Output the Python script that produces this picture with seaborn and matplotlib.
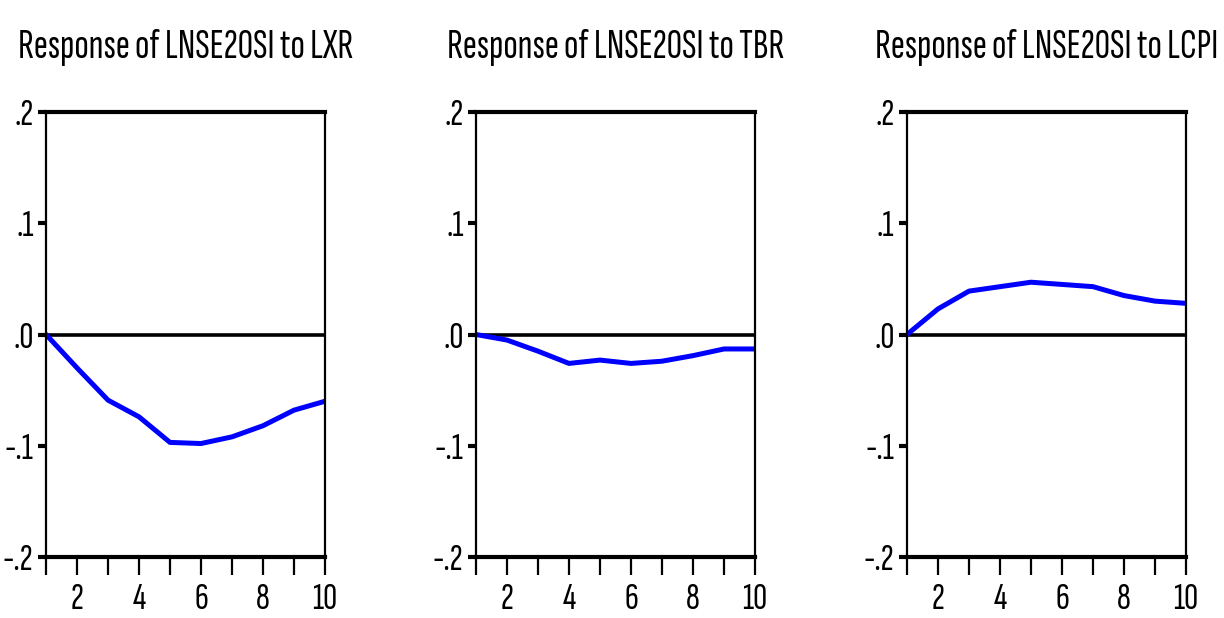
import numpy as np
import pandas as pd
import matplotlib
matplotlib.use("Agg")
import matplotlib.pyplot as plt
import seaborn as sns

# periods and impulse responses
periods = [1, 2, 3, 4, 5, 6, 7, 8, 9, 10]
resp_lxr = [0.0, -0.030, -0.059, -0.074, -0.097, -0.098, -0.092, -0.082, -0.068, -0.060]
resp_tbr = [0.0, -0.005, -0.015, -0.026, -0.023, -0.026, -0.024, -0.019, -0.013, -0.013]
resp_lcpi = [0.0, 0.023, 0.039, 0.043, 0.047, 0.045, 0.043, 0.035, 0.030, 0.028]
titles = ["Response of LNSE20SI to LXR",
          "Response of LNSE20SI to TBR",
          "Response of LNSE20SI to LCPI"]
y_ticks = [-0.2, -0.1, 0.0, 0.1, 0.2]
y_ticklabels = ["-.2", "-.1", ".0", ".1", ".2"]

sns.set_style("white")
plt.rcParams['font.family'] = ['Sofia Sans Extra Condensed', 'Roboto Condensed', 'DejaVu Sans']
plt.rcParams['font.weight'] = 'light'

fig = plt.figure(figsize=(12.24, 6.18), dpi=100)
lefts = [46 / 1224, 476 / 1224, 907 / 1224]
w = 279 / 1224
bottom = 1 - 557 / 618
h = 445 / 618

for left, title, vals in zip(lefts, titles, [resp_lxr, resp_tbr, resp_lcpi]):
    ax = fig.add_axes([left, bottom, w, h])
    df = pd.DataFrame({"period": periods, "response": vals})
    ax.axhline(0, color="black", lw=2.6, zorder=1)
    sns.lineplot(data=df, x="period", y="response", color="#0000ff", lw=3.6, ax=ax, zorder=2)
    ax.set_xlim(1, 10)
    ax.set_ylim(-0.2, 0.2)
    ax.set_xticks(periods)
    ax.set_xticklabels([str(p) if p % 2 == 0 else "" for p in periods])
    ax.set_yticks(y_ticks)
    ax.set_yticklabels(y_ticklabels)
    ax.set_xlabel("")
    ax.set_ylabel("")
    ax.tick_params(axis="x", bottom=True, direction="out", length=13, width=1.6, labelsize=28, pad=6,
                   color="black", labelcolor="black")
    ax.tick_params(axis="y", left=True, direction="out", length=6, width=3, labelsize=28, pad=3,
                   color="black", labelcolor="black")
    for s in ["top", "bottom"]:
        ax.spines[s].set_linewidth(3)
    for s in ["left", "right"]:
        ax.spines[s].set_linewidth(1.6)
    for s in ax.spines.values():
        s.set_color("black")
    ax.set_title(title, fontsize=30.5, pad=39, color="black")

plt.savefig("out.png", dpi=100)
